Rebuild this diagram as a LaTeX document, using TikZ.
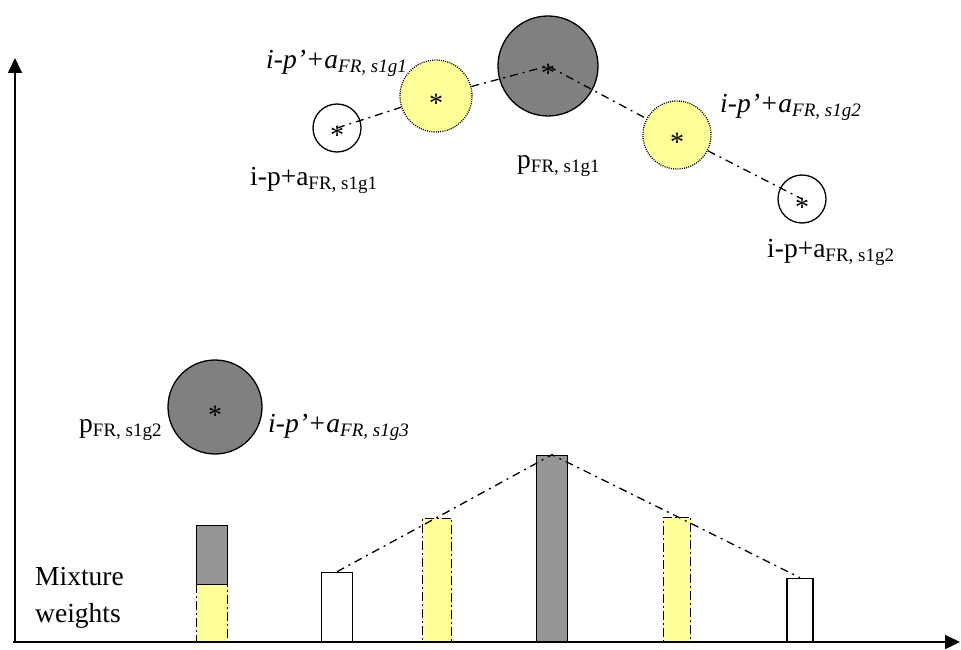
\documentclass[tikz,border=0pt]{standalone}
\usepackage{fontspec}
\setmainfont{Liberation Serif}
\usepackage{xcolor}
\usetikzlibrary{arrows.meta,positioning}

\definecolor{paleyellow}{HTML}{FFFF99}
\definecolor{dotgray}{HTML}{808080}
\definecolor{bargray}{HTML}{969696}

% lowered index as in the labels
\newcommand{\lowidx}[1]{\raisebox{-4pt}{\fontsize{19}{19}\selectfont #1}}

\begin{document}
\begin{tikzpicture}[
    x=1pt,y=-1pt,
    >={Triangle[length=15pt,width=14pt]},
    axis/.style={line width=1.6pt},
    dot/.style={circle,draw,line width=1.3pt,inner sep=0pt,
      font=\fontsize{28}{28}\selectfont,text height=34pt,text depth=0pt},
    whitedot/.style={dot,fill=white,minimum size=48pt},
    graydot/.style={dot,fill=dotgray},
    yellowdot/.style={dot,fill=paleyellow,dash pattern=on 1pt off 1.2pt},
    chain/.style={line width=1.3pt,dash pattern=on 8pt off 5pt on 2pt off 5pt},
    bar/.style={draw,line width=1.3pt,anchor=south,inner sep=0pt},
    whitebar/.style={bar,fill=white},
    graybar/.style={bar,fill=bargray},
    yellowbar/.style={bar,fill=paleyellow,line width=1.5pt,dash pattern=on 9pt off 3pt on 2pt off 3pt},
    lbl/.style={inner sep=0pt,anchor=base west,font=\fontsize{27.5}{32}\selectfont}
  ]
    \useasboundingbox (0,0) rectangle (961,650);

    % axes
    \coordinate (o) at (15,642);
    \coordinate (ytip) at (15,58);
    \coordinate (xtip) at (960,642);
    \draw[axis,->] (o) -- (ytip);
    \draw[axis,->] (13,642) -- (xtip);

    % components
    \node[whitedot] (w1) at (337,128) {*};
    \node[graydot,minimum size=100pt] (g1) at (548,66) {*};
    \node[whitedot] (w2) at (802,199) {*};
    \node[yellowdot,minimum size=72pt] (y1) at (436,96) {*};
    \node[yellowdot,minimum size=68pt] (y2) at (677,135) {*};
    \node[graydot,minimum size=94pt] (g2) at (215,407) {*};

    \draw[chain] (w1.center) -- (y1) -- (g1.center) -- (y2) -- (w2.center);

    \node[lbl] (ly1) at (266,69) {\itshape i-p’+a\lowidx{FR, s1g1}};
    \node[lbl] (lw1) at (250,185) {i-p+a\lowidx{FR, s1g1}};
    \node[lbl] (lg1) at (517,168) {p\lowidx{FR, s1g1}};
    \node[lbl] (ly2) at (720,113) {\itshape i-p’+a\lowidx{FR, s1g2}};
    \node[lbl] (lw2) at (767,257) {i-p+a\lowidx{FR, s1g2}};
    \node[lbl] (lg2) at (79,432) {p\lowidx{FR, s1g2}};
    \node[lbl] (ly3) at (268,432) {\itshape i-p’+a\lowidx{FR, s1g3}};

    % mixture weights
    \node[yellowbar,minimum width=31pt,minimum height=57pt] (b1) at (212,642) {};
    \node[graybar,minimum width=31pt,minimum height=59pt] (b1top) at (212,585) {};
    \node[whitebar,minimum width=31pt,minimum height=69pt] (b2) at (337,642) {};
    \node[yellowbar,minimum width=29pt,minimum height=123pt] (b3) at (437,642) {};
    \node[graybar,minimum width=31pt,minimum height=186pt] (b4) at (552,642) {};
    \node[yellowbar,minimum width=27pt,minimum height=124pt] (b5) at (677,642) {};
    \node[whitebar,minimum width=26pt,minimum height=63pt] (b6) at (800,642) {};

    \draw[chain] (b2.north) -- (b3.north) -- (b4.north) -- (b5.north) -- (b6.north);

    \node[inner sep=0pt,anchor=north west,align=left,font=\fontsize{27.5}{37}\selectfont] (mw) at (35,567) {Mixture\\weights};
  \end{tikzpicture}
\end{document}
